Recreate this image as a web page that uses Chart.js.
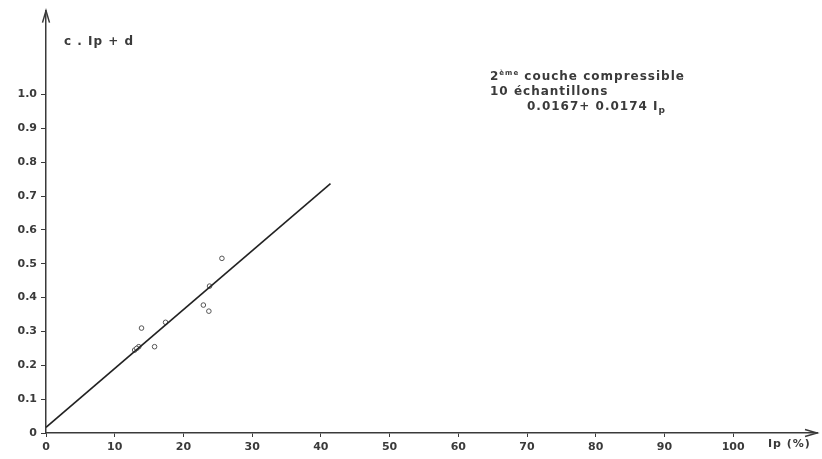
<!DOCTYPE html>
<html>
<head>
<meta charset="utf-8">
<script src="https://cdn.jsdelivr.net/npm/chart.js@4/dist/chart.umd.min.js"></script>
<style>
  html, body { margin: 0; padding: 0; background: #fff; }
  #wrap { width: 822px; height: 459px; }
</style>
</head>
<body>
<div id="wrap"><canvas id="chartIp"></canvas></div>
<script>
// values
const sampleIp = [12.9, 13.5, 13.9, 15.8, 17.4, 22.9, 23.7, 23.8, 25.6, 13.2];
const sampleY  = [0.245, 0.255, 0.31, 0.255, 0.327, 0.378, 0.36, 0.434, 0.516, 0.25];

// fitted line as drawn (0.0167 + 0.0174 Ip), ends near Ip = 41
const fitIp = [0, 41.4];
const fitY  = [0.0167, 0.737];

const xTicks = [0, 10, 20, 30, 40, 50, 60, 70, 80, 90, 100];
const yTicks = [0, 0.1, 0.2, 0.3, 0.4, 0.5, 0.6, 0.7, 0.8, 0.9, 1.0];

const ink = "#3a3a3a";
const tickFont = { family: "DejaVu Sans", size: 11, weight: "bold" };

// draw a run of [text, font, dy] pieces one after the other
function runText(ctx, x, y, parts) {
  parts.forEach(([t, f, dy]) => {
    ctx.font = f;
    ctx.fillText(t, x, y + dy);
    x += ctx.measureText(t).width;
  });
}

/* axis arrows + text */
const decor = {
  id: "decor",
  afterDraw(chart) {
    const { ctx, chartArea: a } = chart;
    ctx.save();
    ctx.strokeStyle = ink;
    ctx.fillStyle = ink;
    ctx.lineWidth = 1.5;
    // y arrow
    ctx.beginPath();
    ctx.moveTo(a.left - 3.5, a.top + 12);
    ctx.lineTo(a.left, a.top);
    ctx.lineTo(a.left + 3.5, a.top + 12);
    ctx.stroke();
    // x arrow
    ctx.beginPath();
    ctx.moveTo(a.right - 12, a.bottom - 3.5);
    ctx.lineTo(a.right, a.bottom);
    ctx.lineTo(a.right - 12, a.bottom + 3.5);
    ctx.stroke();

    ctx.textBaseline = "alphabetic";
    ctx.letterSpacing = "1px";
    ctx.font = "bold 12px 'DejaVu Sans'";
    ctx.fillText("c . Ip + d", 64, 45);

    ctx.font = "bold 11px 'DejaVu Sans'";
    ctx.fillText("Ip (%)", 768, 447);

    // annotation block
    const f12 = "bold 12px 'DejaVu Sans'";
    const f7 = "bold 7px 'DejaVu Sans'";
    runText(ctx, 490, 80, [["2", f12, 0], ["ème", f7, -5], [" couche compressible", f12, 0]]);
    runText(ctx, 490, 95, [["10 échantillons", f12, 0]]);
    runText(ctx, 527, 110, [["0.0167+ 0.0174 I", f12, 0], ["p", "bold 9px 'DejaVu Sans'", 3]]);
    ctx.restore();
  }
};

new Chart(document.getElementById("chartIp"), {
  type: "scatter",
  data: {
    datasets: [
      {
        label: "fit",
        type: "line",
        data: fitIp.map((x, i) => ({ x: x, y: fitY[i] })),
        borderColor: "#222",
        borderWidth: 1.6,
        pointRadius: 0,
        fill: false
      },
      {
        label: "échantillons",
        data: sampleIp.map((x, i) => ({ x: x, y: sampleY[i] })),
        pointRadius: 2.3,
        pointBorderWidth: 1,
        pointBorderColor: "#555",
        pointBackgroundColor: "#fff"
      }
    ]
  },
  options: {
    responsive: true,
    maintainAspectRatio: false,
    animation: false,
    layout: { padding: { top: 5, right: 5, left: 0, bottom: 0 } },
    plugins: { legend: { display: false }, tooltip: { enabled: false } },
    scales: {
      x: {
        type: "linear",
        min: 0,
        max: 112.2,
        afterBuildTicks: (s) => { s.ticks = xTicks.map(v => ({ value: v })); },
        afterFit: (s) => { s.height = 26; },
        border: { display: true, color: ink, width: 1.5 },
        grid: { drawOnChartArea: false, tickLength: 4, color: ink, lineWidth: 1 },
        ticks: { color: ink, font: tickFont, padding: 4, maxRotation: 0, autoSkip: false }
      },
      y: {
        type: "linear",
        min: 0,
        max: 1.248,
        afterBuildTicks: (s) => { s.ticks = yTicks.map(v => ({ value: v })); },
        afterFit: (s) => { s.width = 46; },
        border: { display: true, color: ink, width: 1.5 },
        grid: { drawOnChartArea: false, tickLength: 5, color: ink, lineWidth: 1 },
        ticks: {
          color: ink, font: tickFont, padding: 4, autoSkip: false,
          callback: (v) => (v === 0 ? "0" : v.toFixed(1))
        }
      }
    }
  },
  plugins: [decor]
});
</script>
</body>
</html>
